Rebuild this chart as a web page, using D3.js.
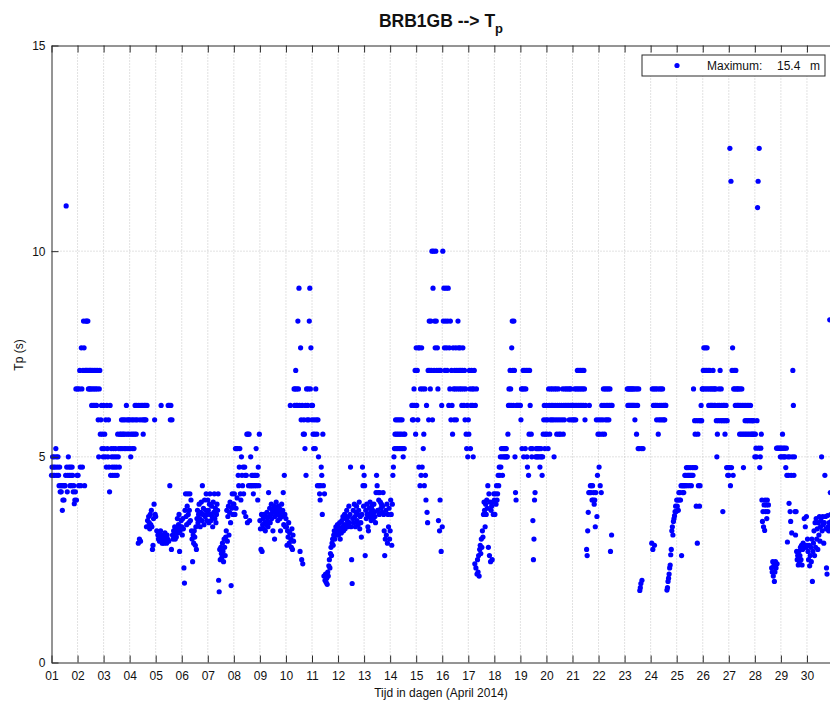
<!DOCTYPE html>
<html><head><meta charset="utf-8">
<script src="https://cdn.jsdelivr.net/npm/d3@7"></script>
<style>
body{margin:0;background:#fff}
svg{display:block}
text{font-family:"Liberation Sans",Arial,Helvetica,sans-serif}
</style>
</head><body>
<svg id="chart" width="830" height="704"></svg>
<script>
// ---- data: peak period Tp (s), half-hourly, one array per day (April 2014) ----
const dayLabels = ["01","02","03","04","05","06","07","08","09","10","11","12","13","14","15",
                   "16","17","18","19","20","21","22","23","24","25","26","27","28","29","30"];
const yTicks = [0, 5, 10, 15];
const titleMain = "BRB1GB --> T", titleSub = "p";
const xLabel = "Tijd in dagen (April 2014)";
const yLabel = "Tp (s)";
const legendLabel = "Maximum:", legendValue = "15.4", legendUnit = "m";

const d01 = [4.55,4.75,5.0,4.55,4.75,5.0,4.55,4.75,5.2,5.0,4.55,4.75,
             5.0,4.55,4.3,4.75,4.15,4.3,4.15,4.3,3.7,3.95,4.3,3.95,
             4.3,4.3,4.55,11.1,4.75,4.15,4.55,5.0,4.75,4.55,4.3,4.75,
             4.55,4.3,4.75,4.55,4.15,4.3,3.86,3.95,4.15,6.65,3.95,4.55];
const d02 = [6.65,4.55,4.3,6.65,7.1,4.75,4.3,7.65,6.65,4.75,7.1,8.3,
             7.65,4.3,7.1,8.3,7.1,8.3,7.1,8.3,6.65,7.1,6.65,7.1,
             6.65,7.1,6.25,6.65,7.1,6.25,6.65,7.1,6.25,6.65,7.1,6.25,
             6.65,7.1,5.9,5.0,6.65,7.1,5.55,5.9,6.25,5.2,5.55,5.0];
const d03 = [6.25,5.2,5.55,5.0,5.9,4.75,6.25,5.2,5.0,5.9,4.75,4.15,
             6.25,4.55,5.2,5.0,4.75,4.55,5.2,5.0,4.75,4.55,5.2,5.0,
             4.75,4.55,5.55,5.0,5.2,4.75,5.55,5.2,5.55,5.9,5.2,5.55,
             5.9,5.55,5.2,5.9,5.55,5.2,6.25,5.9,5.55,5.2,5.9,5.55];
const d04 = [5.9,5.2,5.0,5.55,5.9,5.2,5.55,5.9,5.2,5.55,6.25,5.9,
             5.55,6.25,5.9,null,2.9,6.25,3.0,5.9,2.95,6.25,null,5.9,
             6.25,5.55,5.9,6.25,5.9,6.25,5.9,3.3,6.25,3.45,3.3,3.55,
             3.4,3.25,3.6,3.35,3.7,3.3,2.75,2.85,3.5,3.85,5.9,3.6];
const d05 = [3.55,null,3.2,null,3.1,3.0,3.15,2.95,3.05,3.2,6.25,3.0,
             2.9,3.1,3.0,2.9,3.05,3.15,2.95,3.05,2.9,3.1,3.0,6.25,
             2.95,6.25,4.3,5.9,6.25,2.75,5.9,3.1,3.0,3.2,3.1,3.3,
             3.0,3.2,3.05,3.25,3.5,3.15,3.35,3.6,2.7,3.2,3.3,3.45];
const d06 = [3.3,3.1,3.5,3.25,2.3,1.93,3.7,4.1,3.55,3.35,3.8,4.1,
             3.6,3.4,3.7,4.1,3.45,3.95,3.2,3.0,2.45,3.1,2.9,3.2,
             3.05,2.85,3.3,2.75,3.5,3.7,3.4,3.6,3.85,3.5,3.3,3.65,
             3.9,3.45,4.3,3.6,3.75,3.35,3.95,3.55,3.7,4.1,3.45,3.6];
const d07 = [3.95,3.7,3.4,3.85,4.1,3.6,3.45,3.8,3.55,3.3,3.9,3.65,
             4.1,3.5,3.75,3.4,3.6,3.85,3.7,4.1,2.0,1.72,2.75,2.5,
             2.8,2.65,2.55,2.9,2.7,2.45,3.0,2.8,2.6,3.05,3.2,3.7,
             2.95,3.55,3.8,3.1,3.65,3.9,3.4,1.87,3.75,4.1,3.6,3.85];
const d08 = [3.85,4.1,3.6,5.2,3.75,5.2,4.0,5.2,4.55,4.3,4.75,5.2,
             4.1,3.95,5.0,4.55,4.3,4.75,4.1,3.65,4.75,4.55,3.55,4.55,
             5.55,3.4,5.55,4.3,5.55,3.45,4.3,5.0,4.3,4.55,4.3,4.55,
             4.1,4.3,4.55,4.3,4.55,5.2,4.3,4.55,3.95,4.75,4.3,5.55];
const d09 = [3.45,3.25,2.75,3.6,2.7,3.35,3.5,3.25,3.6,3.4,3.2,3.55,
             3.35,3.65,3.45,3.3,4.13,3.55,3.75,3.4,3.6,3.85,3.5,3.7,
             3.2,3.65,3.8,3.0,3.55,3.75,3.9,3.6,3.7,3.45,3.8,3.6,
             3.75,3.5,3.2,3.65,3.85,3.55,3.7,4.13,3.35,4.55,3.6,3.3];
const d10 = [3.5,3.3,2.85,3.2,3.05,3.4,2.9,3.15,6.25,3.0,2.8,3.25,
             2.75,3.1,2.95,6.65,6.25,6.65,7.1,6.25,6.65,6.25,8.3,6.65,
             9.1,6.25,2.7,7.65,5.9,2.5,6.25,2.4,5.55,5.9,5.55,5.2,
             6.25,4.55,6.65,5.9,6.25,6.65,5.9,8.3,9.1,6.65,7.65,6.25];
const d11 = [5.9,6.25,5.55,5.2,5.9,5.55,5.2,6.65,5.9,5.55,4.3,5.9,
             5.0,4.3,4.1,3.95,4.3,4.75,4.55,3.6,5.55,4.3,2.1,4.1,
             2.0,2.15,1.95,2.05,1.9,2.2,2.1,2.35,2.5,2.3,2.65,2.8,
             2.6,2.9,3.0,2.85,3.1,3.2,3.0,3.15,3.3,3.1,3.25,3.35];
const d12 = [3.3,3.1,3.2,3.4,3.0,3.25,3.15,3.45,3.3,3.55,3.2,3.35,
             3.6,3.25,3.5,3.35,3.7,3.45,3.3,3.55,3.8,3.4,3.6,4.75,
             3.3,2.5,1.92,3.5,3.7,3.4,3.85,3.55,3.3,3.65,3.8,3.45,
             3.6,3.35,3.7,3.9,3.25,3.55,3.4,3.05,3.6,4.75,4.3,3.8];
const d13 = [4.55,4.3,2.6,3.7,3.5,3.85,3.6,3.3,3.2,3.75,3.55,3.9,
             3.65,3.45,3.8,3.6,3.7,3.5,3.85,3.65,3.55,3.4,4.13,4.55,
             4.3,3.7,4.13,3.95,3.6,4.13,3.9,3.75,3.85,3.65,3.8,4.13,
             3.6,3.2,2.6,3.0,3.7,3.1,3.85,2.9,3.6,3.3,3.75,3.0];
const d14 = [3.2,3.95,3.6,2.85,3.85,4.55,4.75,5.0,5.2,5.55,5.9,5.2,
             5.55,5.9,5.2,5.55,5.9,5.2,5.55,5.9,5.2,5.55,5.9,5.2,
             5.0,5.55,5.2,5.55,null,null,null,null,null,null,null,null,
             null,null,null,null,6.25,5.9,6.25,5.9,6.65,6.25,7.1,5.55];
const d15 = [7.65,6.25,7.1,5.9,7.65,4.75,7.65,4.3,6.65,4.55,7.65,4.75,
             6.65,5.2,5.55,4.3,6.65,4.55,3.95,6.25,3.65,3.4,7.1,5.9,
             8.3,7.1,6.65,8.3,7.1,10.0,5.9,9.1,10.0,7.1,8.3,7.65,
             10.0,8.3,7.1,7.65,6.65,3.45,7.1,3.2,3.95,7.1,2.7,6.25];
const d16 = [3.3,10.0,8.3,9.1,7.65,7.1,8.3,9.1,7.65,7.1,8.3,9.1,
             6.25,7.65,6.65,8.3,5.9,7.1,6.25,5.55,7.65,6.65,5.9,7.1,
             6.65,7.65,5.9,7.1,6.65,8.3,7.65,7.1,6.65,7.65,7.1,6.65,
             6.25,7.1,7.65,6.65,6.25,7.1,5.9,6.65,5.55,5.2,6.25,5.0];
const d17 = [5.9,5.55,7.1,6.65,5.2,6.25,7.1,6.65,6.25,5.0,6.65,7.1,
             2.4,6.25,2.3,6.65,2.15,2.5,2.2,2.6,2.1,2.75,2.85,2.65,
             3.0,2.8,3.2,3.05,3.6,3.9,3.7,3.3,3.85,3.6,3.95,3.75,
             4.3,2.8,4.1,2.6,3.9,2.45,3.7,3.8,2.5,3.9,3.6,4.1];
const d18 = [3.95,3.6,4.1,3.85,4.3,3.95,4.1,4.55,4.3,4.75,4.55,5.0,
             4.75,5.2,5.0,4.55,5.2,5.0,5.2,5.0,5.2,5.0,5.2,5.0,
             5.0,5.55,6.25,6.65,6.25,7.1,6.65,6.25,7.65,8.3,7.1,6.25,
             8.3,7.1,5.0,4.13,3.95,6.25,6.25,null,6.25,null,6.25,null];
const d19 = [6.25,5.9,6.65,5.2,6.65,7.1,5.0,6.65,7.1,5.2,6.65,7.1,
             5.0,4.75,7.1,4.55,5.55,7.1,6.25,5.2,5.55,5.0,5.2,3.45,
             2.5,3.0,3.95,4.13,5.0,5.2,5.0,5.2,5.0,5.2,5.0,5.2,
             4.75,5.0,5.2,5.0,4.55,5.0,5.55,5.9,6.25,5.2,5.55,5.9];
const d20 = [6.25,5.55,5.9,5.2,6.65,6.25,5.55,5.9,6.65,6.25,5.9,6.65,
             6.25,5.9,5.0,6.65,6.25,5.9,6.65,5.55,6.25,5.9,6.65,5.55,
             6.25,5.9,5.55,null,6.25,5.9,6.65,5.55,6.25,5.9,6.65,6.25,
             null,6.65,6.25,null,6.65,6.25,5.9,6.65,6.25,6.65,5.9,6.25];
const d21 = [6.25,5.9,6.25,5.9,6.65,6.25,5.9,6.65,6.25,7.1,6.65,6.25,
             7.1,6.65,6.25,7.1,6.65,6.25,7.1,6.65,6.25,7.1,6.65,5.9,
             6.25,null,2.75,2.6,3.2,3.65,4.13,6.25,4.13,4.3,4.13,4.3,
             3.95,4.3,3.95,4.13,3.85,3.95,3.3,4.13,5.9,3.55,4.55,5.55];
const d22 = [5.9,4.75,5.55,4.3,5.9,4.13,6.25,5.55,5.9,6.65,6.25,5.55,
             6.65,5.9,6.25,6.65,5.9,6.25,6.65,5.9,6.25,6.65,2.7,6.25,
             3.1,6.25,null,null,null,null,null,null,null,null,null,null,
             null,null,null,null,null,null,null,null,null,null,null,null];
const d23 = [null,null,null,null,null,6.65,6.25,6.65,6.25,6.65,6.25,6.65,
             6.25,6.65,6.25,6.65,6.25,6.65,6.25,5.9,6.65,6.25,5.55,6.65,
             6.25,5.2,6.65,5.2,1.75,1.82,1.92,5.2,2.0,null,5.2,null,
             null,null,null,null,null,null,null,null,null,null,null,null];
const d24 = [null,null,2.9,6.65,2.75,6.25,6.65,2.85,6.25,6.65,6.25,5.9,
             6.65,6.25,5.55,5.9,6.65,6.25,5.9,6.65,6.25,5.9,6.65,6.25,
             5.9,6.25,5.9,6.25,6.25,null,1.76,1.82,1.97,2.05,2.15,2.3,
             2.37,2.62,2.75,3.2,3.3,3.1,3.43,3.5,3.57,3.67,3.8,3.67];
const d25 = [3.95,3.8,3.95,3.7,4.13,3.95,4.13,3.95,4.3,2.6,4.3,4.13,
             4.3,4.13,4.3,4.55,4.3,4.55,4.74,4.3,4.55,4.74,4.55,4.3,
             4.55,4.74,4.55,4.3,4.55,4.74,4.55,6.65,4.74,5.88,5.55,4.74,
             3.8,5.88,2.9,5.55,4.3,5.88,3.8,4.3,5.88,6.25,5.88,6.65];
const d26 = [6.65,7.1,7.65,6.65,7.1,7.65,6.65,7.1,7.65,6.65,7.1,6.25,
             6.65,7.1,6.25,6.65,6.25,6.65,6.25,7.1,6.65,6.25,6.65,6.25,
             6.65,5.88,5.0,5.55,6.25,5.88,6.65,6.25,7.1,5.88,6.65,6.25,
             5.88,3.67,6.25,5.88,6.25,5.55,5.88,6.25,4.74,5.88,4.55,4.74];
const d27 = [4.55,4.74,12.5,4.3,11.7,4.74,7.1,7.65,4.55,6.65,7.1,6.65,
             6.25,7.1,6.65,6.25,6.65,6.25,6.65,6.25,5.55,6.65,6.25,5.55,
             6.65,6.25,5.55,4.74,6.25,5.55,5.88,6.25,5.55,5.88,6.25,5.55,
             5.88,6.25,5.55,5.88,6.25,5.55,5.88,5.55,5.88,5.55,5.88,5.55];
const d28 = [5.0,5.55,5.21,5.0,5.88,11.06,11.7,5.21,12.5,4.74,5.0,5.21,
             5.55,3.95,3.43,3.67,3.3,3.83,3.21,3.95,3.67,3.83,3.5,3.95,
             3.67,3.83,null,null,null,null,null,2.3,2.2,2.45,2.1,2.35,
             1.97,2.2,2.45,2.3,5.21,2.4,5.21,null,5.21,null,5.21,5.0];
const d29 = [5.21,5.0,5.21,5.55,5.0,5.21,5.0,5.21,5.0,4.74,5.21,4.55,
             2.93,5.0,4.55,3.87,5.0,3.67,3.43,4.55,3.15,5.0,7.1,6.25,
             4.55,5.0,3.67,3.1,3.67,2.7,2.5,2.6,2.37,2.7,2.45,2.6,
             2.8,2.5,2.85,2.37,2.75,2.9,2.8,3.5,2.85,3.3,2.8,3.55];
const d30 = [2.85,3.0,2.7,2.5,2.85,2.35,2.6,2.8,2.45,3.0,1.97,2.7,
             2.9,3.2,2.6,3.4,2.8,3.5,3.0,3.25,2.75,3.4,3.1,3.55,
             2.95,3.3,3.45,5.0,3.2,3.55,3.35,2.9,3.4,4.55,3.55,3.25,
             2.3,2.15,3.57,3.3,3.2,3.4,8.33,4.13,3.6,3.3,3.45,3.6];

const days = [d01,d02,d03,d04,d05,d06,d07,d08,d09,d10,d11,d12,d13,d14,d15,
              d16,d17,d18,d19,d20,d21,d22,d23,d24,d25,d26,d27,d28,d29,d30];

// ---- flatten to (hour, value) ----
const points = [];
days.forEach((arr, di) => arr.forEach((v, si) => {
  if (v != null) points.push({t: di * 24 + si * 0.5, v});
}));

// ---- layout ----
const svg = d3.select("#chart");
const L = 51.5, T = 45.5, B = 662.5, R = 833;
const x = d3.scaleLinear().domain([0, 720]).range([L, R]);
const y = d3.scaleLinear().domain([0, 15]).range([B, T]);
const dayTicks = dayLabels.map((_, i) => i * 24);
const axisColor = "#2b2b2b";

// grid
const grid = svg.append("g");
grid.selectAll("line.vx").data(dayTicks.slice(1)).join("line")
  .attr("x1", d => x(d)).attr("x2", d => x(d)).attr("y1", T).attr("y2", B)
  .attr("stroke", "#c4c4c4").attr("stroke-width", 1).attr("stroke-dasharray", "1,2");
grid.selectAll("line.hy").data(yTicks.slice(1, -1)).join("line")
  .attr("x1", L).attr("x2", 830).attr("y1", d => y(d)).attr("y2", d => y(d))
  .attr("stroke", "#c4c4c4").attr("stroke-width", 1).attr("stroke-dasharray", "1,2");

// points
svg.append("g").selectAll("circle").data(points).join("circle")
  .attr("cx", d => x(d.t)).attr("cy", d => y(d.v)).attr("r", 2.6)
  .attr("fill", "#0000ff");

// axes
const gx = svg.append("g").attr("transform", `translate(0,${B})`)
  .call(d3.axisBottom(x).tickValues(dayTicks).tickFormat((d, i) => dayLabels[i])
        .tickSizeInner(-7).tickSizeOuter(0).tickPadding(9));
const gxt = svg.append("g").attr("transform", `translate(0,${T})`)
  .call(d3.axisTop(x).tickValues(dayTicks).tickFormat("")
        .tickSizeInner(-7).tickSizeOuter(0));
const gy = svg.append("g").attr("transform", `translate(${L},0)`)
  .call(d3.axisLeft(y).tickValues(yTicks).tickFormat(d3.format("d"))
        .tickSizeInner(-7).tickSizeOuter(0).tickPadding(6));
[gx, gxt, gy].forEach(g => {
  g.select(".domain").attr("stroke", axisColor);
  g.selectAll(".tick line").attr("stroke", axisColor);
  g.selectAll(".tick text").attr("fill", "#111").style("font-size", "12px")
    .style("font-family", '"Liberation Sans",Arial,sans-serif');
});

// titles
const title = svg.append("text").attr("x", 441).attr("y", 27).attr("text-anchor", "middle")
  .style("font-size", "17.5px").style("font-weight", "bold").attr("fill", "#111");
title.append("tspan").text(titleMain);
title.append("tspan").text(titleSub).attr("dy", 6).style("font-size", "13px");

svg.append("text").attr("x", 441).attr("y", 697).attr("text-anchor", "middle")
  .style("font-size", "12px").attr("fill", "#111").text(xLabel);
svg.append("text").attr("transform", "translate(23,355) rotate(-90)").attr("text-anchor", "middle")
  .style("font-size", "12px").attr("fill", "#111").text(yLabel);

// legend
const lg = svg.append("g");
lg.append("rect").attr("x", 642).attr("y", 55).attr("width", 183).attr("height", 21)
  .attr("fill", "#fff").attr("stroke", axisColor).attr("stroke-width", 1);
lg.append("circle").attr("cx", 677).attr("cy", 65.5).attr("r", 2.6).attr("fill", "#0000ff");
lg.append("text").attr("x", 707).attr("y", 70).style("font-size", "12px").attr("fill", "#111").text(legendLabel);
lg.append("text").attr("x", 777).attr("y", 70).style("font-size", "12px").attr("fill", "#111").text(legendValue);
lg.append("text").attr("x", 810).attr("y", 70).style("font-size", "12px").attr("fill", "#111").text(legendUnit);
</script>
</body></html>
